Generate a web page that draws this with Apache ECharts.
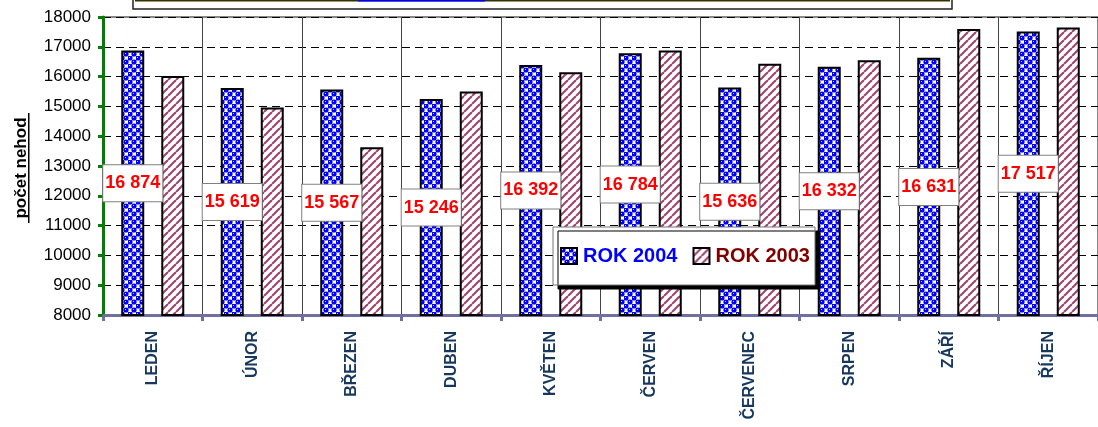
<!DOCTYPE html>
<html>
<head>
<meta charset="utf-8">
<script src="https://cdn.jsdelivr.net/npm/echarts@6/dist/echarts.min.js"></script>
<style>
  html, body { margin: 0; padding: 0; background: #fff; }
  #chart { width: 1098px; height: 427px; }
</style>
</head>
<body>
<div id="chart"></div>
<script>
var months = ["LEDEN", "ÚNOR", "BŘEZEN", "DUBEN", "KVĚTEN", "ČERVEN", "ČERVENEC", "SRPEN", "ZÁŘÍ", "ŘÍJEN"];
var rok2004 = [16874, 15619, 15567, 15246, 16392, 16784, 15636, 16332, 16631, 17517];
var rok2003 = [16020, 14960, 13630, 15500, 16150, 16880, 16430, 16550, 17600, 17650];
var yTicks = { min: 8000, max: 18000, step: 1000 };

// vzorek modrych kulicek (ROK 2004)
function ballPattern() {
  var c = document.createElement("canvas");
  c.width = 8;
  c.height = 8;
  var ctx = c.getContext("2d");
  ctx.fillStyle = "#ffffff";
  ctx.fillRect(0, 0, 8, 8);
  ctx.fillStyle = "#0000ff";
  [[2, 2], [6, 6], [6, -2], [-2, 6], [10, 6], [6, 10]].forEach(function (p) {
    ctx.beginPath();
    ctx.arc(p[0], p[1], 2.6, 0, Math.PI * 2);
    ctx.fill();
  });
  ctx.fillStyle = "#c0c8ff";
  ctx.fillRect(1, 1, 1, 1);
  ctx.fillRect(5, 5, 1, 1);
  return c;
}

// sikme pruhy (ROK 2003)
function stripePattern() {
  var c = document.createElement("canvas");
  c.width = 8;
  c.height = 8;
  var ctx = c.getContext("2d");
  ctx.fillStyle = "#ffffff";
  ctx.fillRect(0, 0, 8, 8);
  ctx.strokeStyle = "#a04874";
  ctx.lineWidth = 2.2;
  [[-8, 8], [0, 8], [8, 8]].forEach(function (p) {
    ctx.beginPath();
    ctx.moveTo(p[0], p[1]);
    ctx.lineTo(p[0] + 8, p[1] - 8);
    ctx.stroke();
  });
  return c;
}

var chart = echarts.init(document.getElementById("chart"));

var option = {
  animation: false,
  textStyle: { fontFamily: "Liberation Sans, Arial, sans-serif" },
  grid: {
    left: 103,
    top: 17,
    right: -5,
    bottom: 112,
    show: true,
    borderColor: "#888",
    borderWidth: 2,
    backgroundColor: "#fff"
  },
  legend: {
    left: 553,
    top: 227,
    orient: "horizontal",
    itemWidth: 16,
    itemHeight: 16,
    itemGap: 15,
    padding: [19, 5, 19, 7],
    backgroundColor: "#fff",
    borderColor: "#777",
    borderWidth: 1,
    shadowColor: "#000",
    shadowBlur: 0,
    shadowOffsetX: 5,
    shadowOffsetY: 4,
    textStyle: { fontSize: 20, fontWeight: "bold", padding: [0, 0, 0, 1] },
    data: [
      { name: "ROK 2004", icon: "rect", textStyle: { color: "#0000ff" } },
      { name: "ROK 2003", icon: "rect", textStyle: { color: "#800000" } }
    ]
  },
  xAxis: {
    type: "category",
    data: months,
    axisLine: { show: true, lineStyle: { color: "#7070a0", width: 3 } },
    axisTick: { show: true, length: 6, lineStyle: { color: "#7070a0", width: 3 } },
    splitLine: { show: true, lineStyle: { color: "#444", width: 1 } },
    axisLabel: {
      interval: 0,
      rotate: 90,
      margin: 16,
      color: "#17375e",
      fontSize: 16,
      fontWeight: "bold"
    }
  },
  yAxis: {
    type: "value",
    min: yTicks.min,
    max: yTicks.max,
    interval: yTicks.step,
    axisLine: { show: true, lineStyle: { color: "#008000", width: 3 } },
    axisTick: { show: true, length: 5, lineStyle: { color: "#008000", width: 3 } },
    axisLabel: {
      color: "#000",
      fontSize: 17,
      margin: 12,
      formatter: function (v) { return String(v); }
    },
    splitLine: { show: true, lineStyle: { color: "#000", type: [8, 5], width: 1 } }
  },
  series: [
    {
      name: "ROK 2004",
      type: "bar",
      data: rok2004,
      barWidth: 23,
      barGap: "74%",
      itemStyle: {
        color: { image: ballPattern(), repeat: "repeat" },
        borderColor: "#000",
        borderWidth: 2
      },
      label: {
        show: true,
        position: "inside",
        formatter: function (p) {
          return String(p.value).replace(/\B(?=(\d{3})+(?!\d))/g, " ");
        },
        color: "#ff0000",
        fontSize: 18,
        fontWeight: "bold",
        lineHeight: 20,
        backgroundColor: "#fff",
        borderColor: "#808080",
        borderWidth: 1,
        padding: [8, 2, 8, 2]
      },
      z: 3
    },
    {
      name: "ROK 2003",
      type: "bar",
      data: rok2003,
      barWidth: 23,
      itemStyle: {
        color: { image: stripePattern(), repeat: "repeat" },
        borderColor: "#000",
        borderWidth: 2
      },
      z: 2
    }
  ],
  graphic: [
    // useknuty ramecek nadpisu nahore
    {
      type: "rect",
      shape: { x: 133, y: -40, width: 819, height: 49 },
      style: { fill: "#fff", stroke: "#222", lineWidth: 1.5 }
    },
    {
      type: "rect",
      shape: { x: 135, y: 0, width: 815, height: 1.5 },
      style: { fill: "#333300" }
    },
    {
      type: "rect",
      shape: { x: 358, y: 0, width: 127, height: 1.5 },
      style: { fill: "#0000ff" }
    },
    {
      type: "text",
      x: 21,
      y: 168,
      rotation: Math.PI / 2,
      style: {
        text: "počet nehod",
        fill: "#000",
        font: "bold 17px 'Liberation Sans', Arial, sans-serif",
        align: "center",
        verticalAlign: "middle"
      }
    },
    {
      type: "rect",
      shape: { x: 28, y: 113, width: 1.5, height: 110 },
      style: { fill: "#000" }
    }
  ]
};

chart.setOption(option);
</script>
</body>
</html>
